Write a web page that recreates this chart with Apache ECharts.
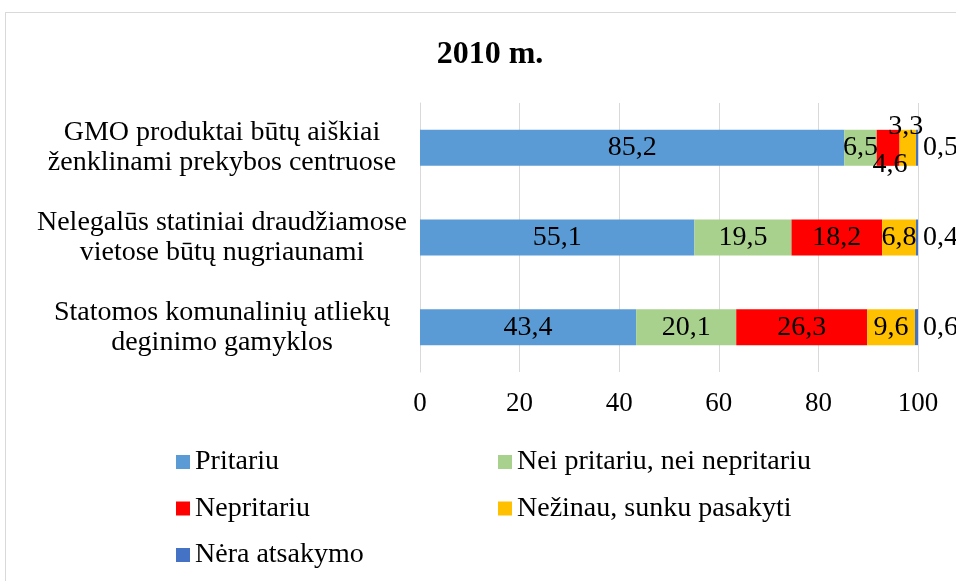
<!DOCTYPE html>
<html><head><meta charset="utf-8">
<script src="https://cdn.jsdelivr.net/npm/echarts@6/dist/echarts.min.js"></script>
<style>
html,body{margin:0;padding:0;background:#fff;}
#frame{position:absolute;left:5px;top:12px;width:1000px;height:600px;border:1px solid #d9d9d9;box-sizing:border-box;}
#c{position:absolute;left:0;top:0;width:956px;height:581px;}
</style></head>
<body><div id="frame"></div><div id="c"></div>
<script>
const title = '2010 m.';
const categories = [
  'GMO produktai būtų aiškiai\nženklinami prekybos centruose',
  'Nelegalūs statiniai draudžiamose\nvietose būtų nugriaunami',
  'Statomos komunalinių atliekų\ndeginimo gamyklos'
];
const seriesNames = ['Pritariu','Nei pritariu, nei nepritariu','Nepritariu','Nežinau, sunku pasakyti','Nėra atsakymo'];
const pritariu = [85.2, 55.1, 43.4];
const nei = [6.5, 19.5, 20.1];
const nepritariu = [4.6, 18.2, 26.3];
const nezinau = [3.3, 6.8, 9.6];
const nera = [0.5, 0.4, 0.6];
const xTicks = [0, 20, 40, 60, 80, 100];

const colors = ['#5B9BD5','#A9D18E','#FF0000','#FFC000','#4472C4'];
const font = 'Liberation Serif';
const fs = 28;
const fmt = p => String(p.value).replace('.', ',');

function mkData(vals, overrides) {
  return vals.map((v, i) => (overrides && overrides[i]) ? {value: v, label: overrides[i]} : v);
}

const allVals = [pritariu, nei, nepritariu, nezinau, nera];
const overrides = [
  null, null,
  {0: {position: 'inside', offset: [2, 17]}},
  {0: {position: 'inside', offset: [-2, -21]}},
  null
];
const series = allVals.map((vals, k) => ({
  name: seriesNames[k],
  type: 'bar',
  stack: 'all',
  barWidth: 36,
  itemStyle: {color: colors[k]},
  label: {
    show: true,
    position: k === 4 ? 'right' : 'inside',
    distance: 5,
    formatter: fmt,
    color: '#000',
    fontFamily: font,
    fontSize: fs
  },
  data: mkData(vals, overrides[k])
}));

const legendText = {fontFamily: font, fontSize: fs, color: '#000', lineHeight: 30};
const chart = echarts.init(document.getElementById('c'));
chart.setOption({
  animation: false,
  color: colors,
  title: {
    text: title, left: 485, top: 34, textAlign: 'center',
    textStyle: {fontFamily: font, fontWeight: 'bold', fontSize: 32, color: '#000'}
  },
  grid: {left: 420, right: 38, top: 103, bottom: 209, containLabel: false},
  xAxis: {
    type: 'value', min: 0, max: 100, interval: 20,
    axisLine: {show: false}, axisTick: {show: false},
    splitLine: {lineStyle: {color: '#d9d9d9', width: 1}},
    axisLabel: {fontFamily: font, fontSize: 27, color: '#000', margin: 18,
      formatter: v => xTicks.includes(v) ? String(v) : ''}
  },
  yAxis: {
    type: 'category', inverse: true, data: categories,
    axisLine: {show: true, lineStyle: {color: '#d9d9d9'}},
    axisTick: {show: false},
    axisLabel: {fontFamily: font, fontSize: fs, color: '#000', align: 'center', margin: 198, lineHeight: 30}
  },
  legend: [
    {orient: 'vertical', left: 171, top: 442, icon: 'rect', itemWidth: 14, itemHeight: 14, itemGap: 16.5,
      data: [seriesNames[0], seriesNames[2], seriesNames[4]], textStyle: legendText},
    {orient: 'vertical', left: 493, top: 442, icon: 'rect', itemWidth: 14, itemHeight: 14, itemGap: 16.5,
      data: [seriesNames[1], seriesNames[3]], textStyle: legendText}
  ],
  series: series
});
</script></body></html>
